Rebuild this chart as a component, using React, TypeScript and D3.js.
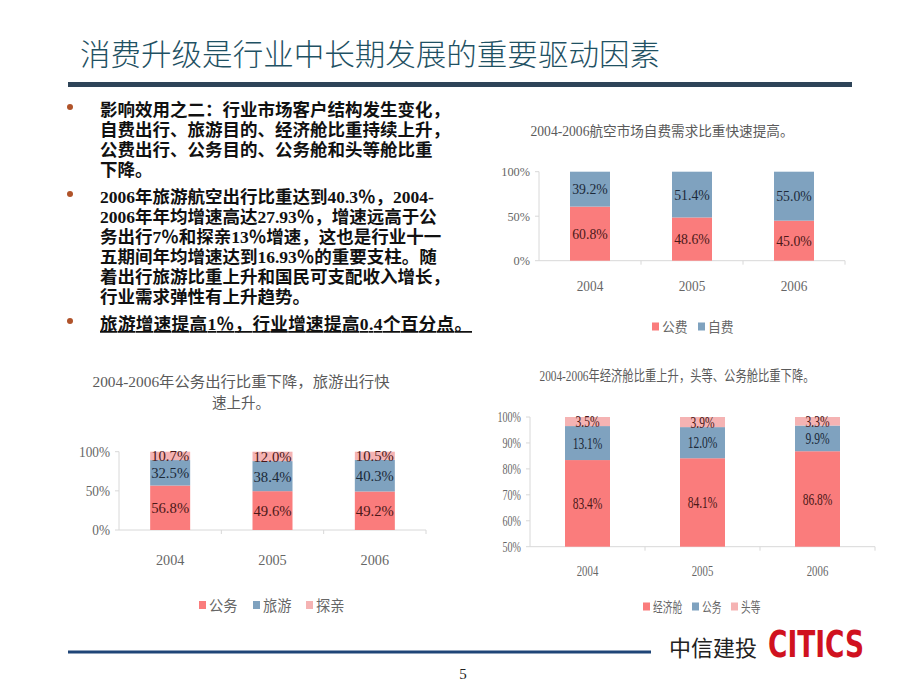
import * as d3 from "d3";

const years = ["2004", "2005", "2006"];

// 2004-2006 航空市场自费需求
const feeNames = ["公费", "自费"];
const publicFee = [60.8, 48.6, 45.0];
const selfFee = [39.2, 51.4, 55.0];
const ticksFee = [0, 50, 100];

// 2004-2006 出行目的
const purposeNames = ["公务", "旅游", "探亲"];
const business = [56.8, 49.6, 49.2];
const tourism = [32.5, 38.4, 40.3];
const visiting = [10.7, 12.0, 10.5];
const ticksPurpose = [0, 50, 100];

// 2004-2006 舱位结构
const cabinNames = ["经济舱", "公务", "头等"];
const economy = [83.4, 84.1, 86.8];
const businessCabin = [13.1, 12.0, 9.9];
const firstClass = [3.5, 3.9, 3.3];
const ticksCabin = [50, 60, 70, 80, 90, 100];

const bullet1 = [
  "影响效用之二：行业市场客户结构发生变化，",
  "自费出行、旅游目的、经济舱比重持续上升，",
  "公费出行、公务目的、公务舱和头等舱比重",
  "下降。",
];
const bullet2 = [
  "2006年旅游航空出行比重达到40.3％，2004-",
  "2006年年均增速高达27.93％，增速远高于公",
  "务出行7％和探亲13％增速，这也是行业十一",
  "五期间年均增速达到16.93％的重要支柱。随",
  "着出行旅游比重上升和国民可支配收入增长，",
  "行业需求弹性有上升趋势。",
];
const bullet3 = "旅游增速提高1％，行业增速提高0.4个百分点。";

const PINK = "#fa7c7c";
const BLUE = "#7fa2bf";
const LIGHT = "#f5b3b3";
const SERIF = '"Liberation Serif", "Noto Sans CJK SC", serif';
const SANS = '"Noto Sans CJK SC", "Noto Sans", sans-serif';

interface Series {
  name: string;
  values: number[];
  color: string;
  ink: string;
}

interface ChartProps {
  left: number;
  right: number;
  top: number;
  bottom: number;
  domain: [number, number];
  ticks: number[];
  barWidth: number;
  series: Series[];
  sx: number;
  labelSize: number;
  axisSize: number;
  xLabelY: number;
  title: string[];
  titleX: number;
  titleY: number[];
  titleWidth: number[];
  titleSize: number;
  legendY: number;
  legendX: number[];
  legendSize: number;
}

function T(props: {
  x: number;
  y: number;
  sx?: number;
  size: number;
  anchor?: "start" | "middle" | "end";
  fill?: string;
  children: string;
}) {
  const { x, y, sx = 1, size, anchor = "middle", fill = "#666", children } = props;
  return (
    <text
      transform={`translate(${x},${y}) scale(${sx},1)`}
      fontSize={size}
      textAnchor={anchor}
      fill={fill}
      fontFamily={SERIF}
    >
      {children}
    </text>
  );
}

function StackedChart(p: ChartProps) {
  const n = years.length;
  const step = (p.right - p.left) / n;
  const pad = 1 - p.barWidth / step;
  const x = d3
    .scaleBand()
    .domain(years)
    .range([p.left, p.right])
    .paddingInner(pad)
    .paddingOuter(pad / 2);
  const y = d3.scaleLinear().domain(p.domain).range([p.bottom, p.top]);

  const rows = years.map((yr, i) => {
    const r: Record<string, number | string> = { year: yr };
    p.series.forEach((s) => (r[s.name] = s.values[i]));
    return r;
  });
  const stacked = d3.stack<Record<string, number | string>>().keys(p.series.map((s) => s.name))(rows as any);

  const boundaries = d3.range(1, n + 1).map((k) => p.left + k * x.step());

  return (
    <g>
      {p.title.map((line, i) => (
        <text
          key={i}
          x={p.titleX}
          y={p.titleY[i]}
          fontSize={p.titleSize}
          textAnchor="middle"
          fill="#5a5a5a"
          fontFamily={SERIF}
          textLength={p.titleWidth[i]}
          lengthAdjust="spacingAndGlyphs"
        >
          {line}
        </text>
      ))}

      {/* axes */}
      <line x1={p.left} x2={p.left} y1={p.top} y2={p.bottom} stroke="#d8d8d8" />
      <line x1={p.left} x2={p.right} y1={p.bottom} y2={p.bottom} stroke="#d8d8d8" />
      {p.ticks.map((t) => (
        <line key={t} x1={p.left - 4} x2={p.left} y1={y(t)} y2={y(t)} stroke="#d8d8d8" />
      ))}
      {boundaries.map((b, i) => (
        <line key={i} x1={b} x2={b} y1={p.bottom} y2={p.bottom + 4} stroke="#d8d8d8" />
      ))}
      {p.ticks.map((t) => (
        <T key={t} x={p.left - 9} y={y(t) + p.axisSize * 0.35} sx={p.sx} size={p.axisSize} anchor="end">
          {`${t}%`}
        </T>
      ))}
      {years.map((yr) => (
        <T key={yr} x={(x(yr) ?? 0) + x.bandwidth() / 2} y={p.xLabelY} sx={p.sx} size={p.axisSize + 1}>
          {yr}
        </T>
      ))}

      {/* bars */}
      {stacked.map((layer, si) =>
        layer.map((d, i) => {
          const lo = Math.max(d[0], p.domain[0]);
          const hi = Math.min(d[1], p.domain[1]);
          const bx = x(years[i]) ?? 0;
          return (
            <rect
              key={`${si}-${i}`}
              x={bx}
              y={y(hi)}
              width={x.bandwidth()}
              height={y(lo) - y(hi)}
              fill={p.series[si].color}
            />
          );
        })
      )}
      {stacked.map((layer, si) =>
        layer.map((d, i) => {
          const lo = Math.max(d[0], p.domain[0]);
          const hi = Math.min(d[1], p.domain[1]);
          const cx = (x(years[i]) ?? 0) + x.bandwidth() / 2;
          const cy = (y(lo) + y(hi)) / 2;
          return (
            <T
              key={`l${si}-${i}`}
              x={cx}
              y={cy + p.labelSize * 0.36}
              sx={p.sx}
              size={p.labelSize}
              fill={p.series[si].ink}
            >
              {`${p.series[si].values[i].toFixed(1)}%`}
            </T>
          );
        })
      )}

      {/* legend */}
      {p.series.map((s, i) => (
        <g key={s.name}>
          <rect x={p.legendX[i]} y={p.legendY - 4} width={7} height={8} fill={s.color} />
          <T
            x={p.legendX[i] + 10}
            y={p.legendY + p.legendSize * 0.38}
            sx={p.sx}
            size={p.legendSize}
            anchor="start"
          >
            {s.name}
          </T>
        </g>
      ))}
    </g>
  );
}

const INK_RED = "#4a1818";
const INK_BLUE = "#1c2a3a";

export default function App() {
  const lineX = 100;
  const fs = 17.5;
  const b1y = [116, 136, 156, 176];
  const b2y = [203, 223, 243, 263, 283, 303];
  const b3y = 330;

  return (
    <svg
      width={920}
      height={690}
      style={{ position: "absolute", left: 0, top: 0, background: "#fff" }}
      fontFamily={SERIF}
    >
      <rect width={920} height={690} fill="#fff" />
      {/* header */}
      <text
        x={80}
        y={65}
        fontSize={30}
        fontWeight={300}
        fill="#1f5163"
        fontFamily={SANS}
        textLength={580}
        lengthAdjust="spacingAndGlyphs"
      >
        消费升级是行业中长期发展的重要驱动因素
      </text>
      <rect x={68} y={82} width={784} height={5} fill="#2e4458" />

      {/* bullets */}
      <g fontWeight={700} fontSize={fs} fill="#111" fontFamily={SERIF}>
        {[b1y[0], b2y[0], b3y].map((by, i) => (
          <circle key={i} cx={70} cy={by - 9} r={3} fill="#b0532a" />
        ))}
        {bullet1.map((t, i) => (
          <text key={`a${i}`} x={lineX} y={b1y[i]}>
            {t}
          </text>
        ))}
        {bullet2.map((t, i) => (
          <text key={`b${i}`} x={lineX} y={b2y[i]}>
            {t}
          </text>
        ))}
        <text x={lineX} y={b3y} textDecoration="underline" textLength={372} lengthAdjust="spacing">
          {bullet3}
        </text>
      </g>

      {/* chart: 自费需求 */}
      <StackedChart
        left={539}
        right={845}
        top={171.7}
        bottom={260.7}
        domain={[0, 100]}
        ticks={ticksFee}
        barWidth={40}
        series={[
          { name: feeNames[0], values: publicFee, color: PINK, ink: INK_RED },
          { name: feeNames[1], values: selfFee, color: BLUE, ink: INK_BLUE },
        ]}
        sx={0.95}
        labelSize={14.5}
        axisSize={13}
        xLabelY={291}
        title={["2004-2006航空市场自费需求比重快速提高。"]}
        titleX={662}
        titleY={[136]}
        titleWidth={[263]}
        titleSize={14}
        legendY={326.5}
        legendX={[652, 698]}
        legendSize={13.5}
      />

      {/* chart: 出行目的 */}
      <StackedChart
        left={119}
        right={426}
        top={451.7}
        bottom={530}
        domain={[0, 100]}
        ticks={ticksPurpose}
        barWidth={40}
        series={[
          { name: purposeNames[0], values: business, color: PINK, ink: INK_RED },
          { name: purposeNames[1], values: tourism, color: BLUE, ink: INK_BLUE },
          { name: purposeNames[2], values: visiting, color: LIGHT, ink: INK_RED },
        ]}
        sx={0.95}
        labelSize={15.5}
        axisSize={14}
        xLabelY={565}
        title={["2004-2006年公务出行比重下降，旅游出行快", "速上升。"]}
        titleX={241}
        titleY={[387, 408]}
        titleWidth={[297, 58]}
        titleSize={15}
        legendY={605}
        legendX={[199, 253, 306]}
        legendSize={15}
      />

      {/* chart: 舱位 */}
      <StackedChart
        left={530}
        right={875}
        top={417}
        bottom={546.7}
        domain={[50, 100]}
        ticks={ticksCabin}
        barWidth={45}
        series={[
          { name: cabinNames[0], values: economy, color: PINK, ink: INK_RED },
          { name: cabinNames[1], values: businessCabin, color: BLUE, ink: INK_BLUE },
          { name: cabinNames[2], values: firstClass, color: LIGHT, ink: INK_RED },
        ]}
        sx={0.72}
        labelSize={16}
        axisSize={14}
        xLabelY={576}
        title={["2004-2006年经济舱比重上升，头等、公务舱比重下降。"]}
        titleX={677}
        titleY={[381]}
        titleWidth={[275]}
        titleSize={14.5}
        legendY={606.5}
        legendX={[643, 692, 731]}
        legendSize={13.5}
      />

      {/* footer */}
      <line x1={68} x2={651} y1={652} y2={652} stroke="#1f4577" strokeWidth={3} />
      <text x={669} y={656} fontSize={22} fill="#222" fontFamily={SANS} textLength={88} lengthAdjust="spacingAndGlyphs">
        中信建投
      </text>
      <text
        x={768}
        y={657}
        fontSize={37}
        fill="#d0121f"
        fontWeight={900}
        fontFamily='"DejaVu Sans", "Liberation Sans", sans-serif'
        textLength={96}
        lengthAdjust="spacingAndGlyphs"
      >
        CITICS
      </text>
      <text x={463} y={679} fontSize={15} fill="#222" textAnchor="middle">
        5
      </text>
    </svg>
  );
}
